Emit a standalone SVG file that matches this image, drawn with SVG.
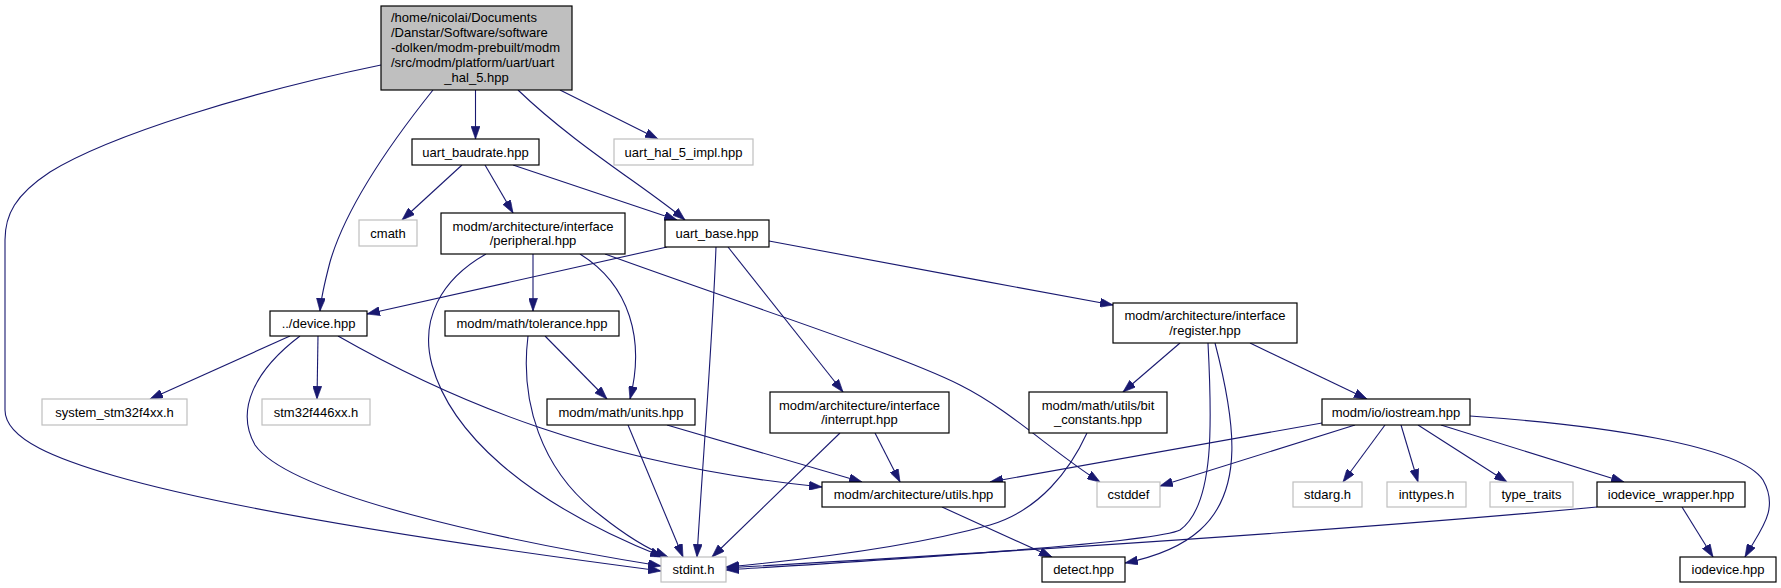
<svg xmlns="http://www.w3.org/2000/svg" width="1781" height="588" viewBox="0 0 1781 588">
<defs>
<marker id="ah" viewBox="0 0 10 7" markerWidth="13" markerHeight="9" refX="10" refY="3.5" orient="auto" markerUnits="userSpaceOnUse">
<polygon points="0,0 10,3.5 0,7" fill="#191970" stroke="#191970" stroke-width="0.5"/>
</marker>
</defs>
<style>
.n rect{fill:#ffffff;stroke:#000000;stroke-width:1.2}
.x rect{fill:#ffffff;stroke:#bfbfbf;stroke-width:1.2}
.m rect{fill:#bfbfbf;stroke:#000000;stroke-width:1.2}
text{font-family:"Liberation Sans",Arial,sans-serif;font-size:13px;fill:#000000;text-anchor:middle}
.l{text-anchor:start}
#edges path{fill:none;stroke:#191970;stroke-width:1.1;marker-end:url(#ah)}
</style>
<rect width="1781" height="588" fill="#ffffff"/>
<g id="edges">
<path d="M381,65 C250,92 110,135 50,172 C15,195 5,215 5,240 L5,410 C5,440 60,460 115,476 C250,515 500,550 661,571"/>
<path d="M433,90 C385,150 345,210 330,262 C324,285 321,298 320,311"/>
<path d="M475.5,90 L475.5,139"/>
<path d="M518,90 C575,145 650,190 685,220"/>
<path d="M560,90 L658,139"/>
<path d="M462,165 L402,220"/>
<path d="M485,165 L513,213"/>
<path d="M513,165 L677,220"/>
<path d="M533,254 L533,311"/>
<path d="M580,254 C630,285 645,340 630,399"/>
<path d="M486,254 C440,280 420,320 432,365 C450,430 520,500 663,557"/>
<path d="M605,254 C760,310 900,355 960,385 C1010,410 1050,450 1100,482"/>
<path d="M667,247 L367,314"/>
<path d="M716,247 C712,350 702,470 697,557"/>
<path d="M728,247 L843,392"/>
<path d="M769,241 C850,255 1000,285 1113,305"/>
<path d="M290,336 L150,399"/>
<path d="M318,336 L317,399"/>
<path d="M300,336 C255,370 235,410 255,445 C290,495 500,540 661,566"/>
<path d="M338,336 C450,400 600,465 822,487"/>
<path d="M545,336 L607,399"/>
<path d="M528,336 C520,400 540,470 600,515 C625,535 645,548 668,557"/>
<path d="M628,425 L683,557"/>
<path d="M667,425 L862,482"/>
<path d="M840,433 L712,557"/>
<path d="M875,433 L900,482"/>
<path d="M1087,433 C1070,470 1040,510 990,525 C900,550 780,562 726,567"/>
<path d="M1180,343 L1123,392"/>
<path d="M1250,343 L1367,399"/>
<path d="M1208,343 C1212,420 1215,505 1180,530 C1150,545 800,565 726,570"/>
<path d="M1215,343 C1235,420 1245,490 1200,530 C1180,548 1150,558 1125,563"/>
<path d="M1322,423 L990,482"/>
<path d="M1355,425 L1160,486"/>
<path d="M1385,425 L1343,482"/>
<path d="M1401,425 L1418,482"/>
<path d="M1418,425 L1507,482"/>
<path d="M1441,425 L1624,482"/>
<path d="M1470,416 C1600,425 1740,445 1763,480 C1780,510 1760,530 1745,557"/>
<path d="M1682,507 L1713,557"/>
<path d="M1597,507 C1300,535 900,558 726,568"/>
<path d="M942,507 L1052,557"/>
</g>
<g id="n_main" class="m"><rect x="381" y="6" width="191" height="84"/>
<text class="l" x="391" y="21.5">/home/nicolai/Documents</text>
<text class="l" x="391" y="36.5">/Danstar/Software/software</text>
<text class="l" x="391" y="51.5">-dolken/modm-prebuilt/modm</text>
<text class="l" x="391" y="66.5">/src/modm/platform/uart/uart</text>
<text x="476.5" y="81.5">_hal_5.hpp</text></g>
<g id="n_baudrate" class="n"><rect x="412" y="139" width="127" height="26"/><text x="475.5" y="156.5">uart_baudrate.hpp</text></g>
<g id="n_impl" class="x"><rect x="614" y="139" width="139" height="26"/><text x="683.5" y="156.5">uart_hal_5_impl.hpp</text></g>
<g id="n_cmath" class="x"><rect x="359" y="220" width="58" height="26"/><text x="388" y="237.5">cmath</text></g>
<g id="n_peripheral" class="n"><rect x="441" y="213" width="184" height="41"/><text x="533" y="230.5">modm/architecture/interface</text><text x="533" y="245">/peripheral.hpp</text></g>
<g id="n_uart_base" class="n"><rect x="665" y="220" width="104" height="27"/><text x="717" y="238">uart_base.hpp</text></g>
<g id="n_device" class="n"><rect x="270" y="311" width="97" height="25"/><text x="318.5" y="328">../device.hpp</text></g>
<g id="n_tolerance" class="n"><rect x="445" y="311" width="174" height="25"/><text x="532" y="328">modm/math/tolerance.hpp</text></g>
<g id="n_register" class="n"><rect x="1113" y="303" width="184" height="40"/><text x="1205" y="320">modm/architecture/interface</text><text x="1205" y="334.5">/register.hpp</text></g>
<g id="n_system" class="x"><rect x="42" y="399" width="145" height="26"/><text x="114.5" y="416.5">system_stm32f4xx.h</text></g>
<g id="n_stm32" class="x"><rect x="262" y="399" width="108" height="26"/><text x="316" y="416.5">stm32f446xx.h</text></g>
<g id="n_units" class="n"><rect x="547" y="399" width="148" height="26"/><text x="621" y="416.5">modm/math/units.hpp</text></g>
<g id="n_interrupt" class="n"><rect x="770" y="392" width="179" height="41"/><text x="859.5" y="409.5">modm/architecture/interface</text><text x="859.5" y="424">/interrupt.hpp</text></g>
<g id="n_bitconst" class="n"><rect x="1029" y="392" width="138" height="41"/><text x="1098" y="409.5">modm/math/utils/bit</text><text x="1098" y="424">_constants.hpp</text></g>
<g id="n_iostream" class="n"><rect x="1322" y="399" width="148" height="26"/><text x="1396" y="416.5">modm/io/iostream.hpp</text></g>
<g id="n_utils" class="n"><rect x="822" y="482" width="183" height="25"/><text x="913.5" y="499">modm/architecture/utils.hpp</text></g>
<g id="n_cstddef" class="x"><rect x="1097" y="482" width="63" height="25"/><text x="1128.5" y="499">cstddef</text></g>
<g id="n_stdarg" class="x"><rect x="1293" y="482" width="69" height="25"/><text x="1327.5" y="499">stdarg.h</text></g>
<g id="n_inttypes" class="x"><rect x="1387" y="482" width="79" height="25"/><text x="1426.5" y="499">inttypes.h</text></g>
<g id="n_typetraits" class="x"><rect x="1490" y="482" width="83" height="25"/><text x="1531.5" y="499">type_traits</text></g>
<g id="n_wrapper" class="n"><rect x="1597" y="482" width="148" height="25"/><text x="1671" y="499">iodevice_wrapper.hpp</text></g>
<g id="n_stdint" class="x"><rect x="661" y="557" width="65" height="25"/><text x="693.5" y="574">stdint.h</text></g>
<g id="n_detect" class="n"><rect x="1042" y="557" width="83" height="25"/><text x="1083.5" y="574">detect.hpp</text></g>
<g id="n_iodevice" class="n"><rect x="1680" y="557" width="96" height="25"/><text x="1728" y="574">iodevice.hpp</text></g>
</svg>
